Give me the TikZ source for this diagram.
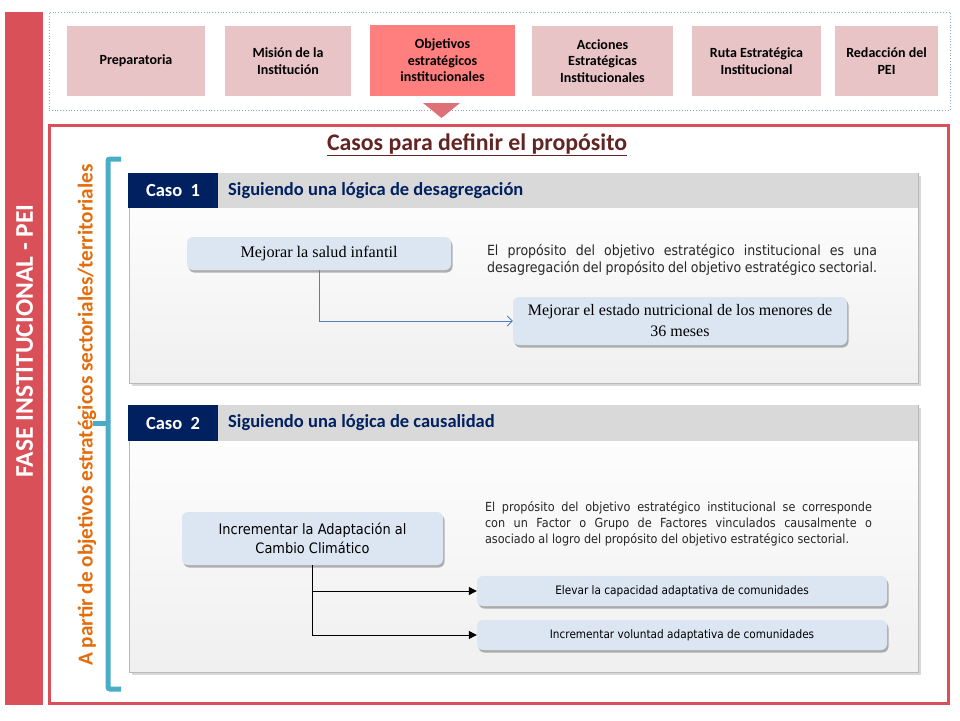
\documentclass[tikz,border=0pt]{standalone}
\usepackage{fontspec}
\setmainfont{Carlito}
\newfontfamily\tms{Liberation Serif}
\newfontfamily\tah{DejaVu Sans}[FakeStretch=0.9]
\usetikzlibrary{shadows,arrows.meta}
\definecolor{redbar}{RGB}{217,80,88}
\definecolor{btnpink}{RGB}{232,196,198}
\definecolor{btnhot}{RGB}{255,127,127}
\definecolor{tripink}{RGB}{222,112,120}
\definecolor{dotgray}{RGB}{140,165,180}
\definecolor{titlered}{RGB}{99,37,35}
\definecolor{orangex}{RGB}{228,108,10}
\definecolor{brblue}{RGB}{75,172,198}
\definecolor{navy}{RGB}{0,32,96}
\definecolor{hdrgray}{RGB}{217,217,217}
\definecolor{panelline}{RGB}{185,185,185}
\definecolor{nodeblue}{RGB}{220,230,242}
\definecolor{arrblue}{RGB}{79,129,189}
\newcommand{\fsz}[2]{\fontsize{#1}{#2}\selectfont}
\tikzset{
  btn/.style={rectangle, fill=btnpink, draw=none, minimum height=70pt, align=center,
    font=\bfseries\fsz{14}{16.5}, text=black, inner sep=2pt},
  panelbody/.style={rectangle, draw=panelline, line width=0.8pt, top color=white, bottom color=black!6,
    drop shadow={shadow xshift=3pt, shadow yshift=-3pt, fill=black!25, opacity=0.6}, minimum width=789pt},
  hdrbar/.style={rectangle, fill=hdrgray, draw=none, minimum width=789pt, minimum height=35pt, inner sep=0pt},
  casobox/.style={rectangle, fill=navy, draw=none, minimum width=90pt, minimum height=35pt,
    text=white, font=\bfseries\fsz{18.5}{21}, inner sep=0pt},
  casotitle/.style={anchor=west, text=navy, font=\bfseries\fsz{18.5}{21}, inner sep=0pt},
  bluenode/.style={rectangle, rounded corners=6pt, fill=nodeblue, draw=none, align=center,
    drop shadow={shadow xshift=1.5pt, shadow yshift=-2.5pt, fill=black!55, opacity=0.55}, inner sep=2pt},
  desc/.style={align=justify, inner sep=0pt, text=black!85},
}
\begin{document}
\begin{tikzpicture}[x=1pt,y=-1pt]
\useasboundingbox (0,0) rectangle (960,720);
\fill[white] (0,0) rectangle (960,720);

% left red bar
\node (bar) [rectangle, fill=redbar, draw=none, minimum width=38pt, minimum height=693pt, inner sep=0pt] at (24,358.5) {};
\node (bartext) [rotate=90, text=white, font=\bfseries\fsz{25.5}{28}, inner sep=0pt] at (24.5,341) {FASE INSTITUCIONAL - PEI};

% top dotted frame
\node (topframe) [rectangle, draw=dotgray, dotted, line width=0.8pt, minimum width=901pt, minimum height=98pt, inner sep=0pt] at (499.5,61) {};

% header buttons
\node (b1) [btn, minimum width=138pt] at (136,61) {Preparatoria};
\node (b2) [btn, minimum width=126pt] at (288,61) {Misión de la\\Institución};
\node (b3) [btn, fill=btnhot, minimum width=145pt, minimum height=71pt] at (442.5,60.5) {Objetivos\\estratégicos\\institucionales};
\node (b4) [btn, minimum width=141pt] at (602.5,61) {Acciones\\Estratégicas\\Institucionales};
\node (b5) [btn, minimum width=129pt] at (756.5,61) {Ruta Estratégica\\Institucional};
\node (b6) [btn, minimum width=103pt] at (886.5,61) {Redacción del\\PEI};

% pointer triangle
\fill[tripink] (423,103) -- (460,103) -- (441.5,118) -- cycle;

% main red frame
\node (mainframe) [rectangle, draw=redbar, line width=3pt, minimum width=899pt, minimum height=578pt, inner sep=0pt] at (498.5,414) {};

% title
\node (title) [text=titlered, font=\bfseries\fsz{23.8}{27}, inner sep=0pt] at (477,145) {\underline{Casos para definir el propósito}};

% vertical orange text
\node (vtext) [rotate=90, text=orangex, font=\bfseries\fsz{21.2}{24}, inner sep=0pt] at (87,415) {A partir de objetivos estratégicos sectoriales/territoriales};

% bracket
\coordinate (brt) at (121,159);
\coordinate (brtc) at (108,159);
\coordinate (brbc) at (108,689);
\coordinate (brb) at (121,689);
\coordinate (brm) at (108,423);
\coordinate (brml) at (93,423);
\draw[brblue, line width=5pt, rounded corners=2pt] (brt) -- (brtc) -- (brbc) -- (brb);
\draw[brblue, line width=5pt] (brm) -- (brml);

% ===== Caso 1 panel =====
\node (p1) [panelbody, minimum height=210pt] at (523.5,278) {};
\node (h1) [hdrbar] at (523.5,190.5) {};
\node (c1) [casobox] at (173,190.5) {Caso\ \ 1};
\node (t1) [casotitle] at (228,190.5) {Siguiendo una lógica de desagregación};

\node (n1) [bluenode, minimum width=264pt, minimum height=33pt, font=\tms\fsz{16.2}{18}] at (319,253.5) {Mejorar la salud infantil};
\node (n2) [bluenode, minimum width=334pt, minimum height=48pt, font=\tms\fsz{16}{21}] at (680,321) {Mejorar el estado nutricional de los menores de\\36 meses};
\node (d1) [desc, text width=390pt, font=\tah\fsz{14}{17}] at (682,259.5) {El propósito del objetivo estratégico institucional es una\linebreak desagregación del propósito del objetivo estratégico sectorial.};

\draw[arrblue, line width=0.8pt, -{Straight Barb[length=5pt,width=10pt]}] (n1.south) |- (n2.west);

% ===== Caso 2 panel =====
\node (p2) [panelbody, minimum height=267pt] at (523.5,538.5) {};
\node (h2) [hdrbar, minimum height=36pt] at (523.5,423) {};
\node (c2) [casobox, minimum height=36pt] at (173,423) {Caso\ \ 2};
\node (t2) [casotitle] at (228,423) {Siguiendo una lógica de causalidad};

\node (n3) [bluenode, minimum width=261pt, minimum height=53pt, font=\tah\fsz{14.4}{19}] at (312.5,538.5) {Incrementar la Adaptación al\\Cambio Climático};
\node (d2) [desc, text width=387pt, font=\tah\fsz{12.5}{16}] at (678.5,524) {El propósito del objetivo estratégico institucional se corresponde\linebreak con un Factor o Grupo de Factores vinculados causalmente o\linebreak asociado al logro del propósito del objetivo estratégico sectorial.};
\node (n4) [bluenode, minimum width=410pt, minimum height=30pt, font=\tah\fsz{11.7}{13}] at (682,591) {Elevar la capacidad adaptativa de comunidades};
\node (n5) [bluenode, minimum width=410pt, minimum height=30pt, font=\tah\fsz{11.7}{13}] at (682,635) {Incrementar voluntad adaptativa de comunidades};

\draw[black, line width=1pt, -{Triangle[length=8pt,width=8pt]}] (n3.south) |- (n4.west);
\draw[black, line width=1pt, -{Triangle[length=8pt,width=8pt]}] (n3.south) |- (n5.west);
\end{tikzpicture}
\end{document}
